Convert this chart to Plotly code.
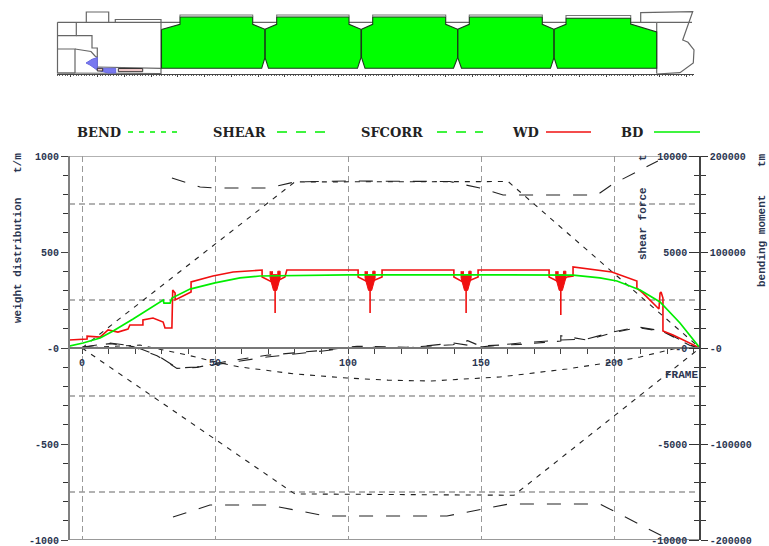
import plotly.graph_objects as go

W, H = 769, 546
# ---------- data (frame number, value) ----------
WD_FRAME = [-4.9,1.9,1.9,6.8,9.8,13.5,17.3,18,22.9,22.9,26.7,30.5,31.2,33.8,34.1,35,35,41,41,49.2,56.8,66.2,67.7,67.7,71.4,72.6,72.6,72.6,76.3,77,103.8,103.8,107.5,108.3,108.3,108.3,112.8,112.8,139.8,139.8,143.2,144.4,144.4,144.4,148.9,148.9,175.6,175.6,178.6,180,180,180,182.3,184.6,184.6,199.2,208.6,208.6,210.9,216.9,217.3,217.7,218.4,218.4,222.2,232.3]
WD_VALUE = [42,47,62,57,94,83,99,120,120,146,156,135,104,104,302,286,250,292,344,375,396,406,406,370,344,344,182,344,370,406,406,370,344,344,182,344,370,406,406,370,344,344,182,344,370,406,406,370,349,344,172,344,370,375,422,396,349,312,286,203,286,292,260,89,68,0]
BD_FRAME = [-4.9,0.4,6.8,11.7,19.2,30.5,30.8,33.1,33.8,40.6,50,59.4,66.9,74.4,100,150,175,184.6,194.7,201.1,209.8,217.3,224.8,232.3]
BD_VALUE = [10,26,52,89,151,250,234,234,260,307,339,365,375,377,381,381,381,380,365,349,302,240,130,0]
SPIKE_FRAMES = [72.6,108.3,144.4,180]
FUNNEL_DX = [-1.9,-1.9,-0.6,0.6,1.9,1.9,1,1,-1,-1]
FUNNEL_WD = [400,365,300,300,365,400,400,382,382,400]

BEND_POS_FRAME = [0,80,160.2,232.3]
BEND_POS_TM = [0,173000,173400,0]
BEND_NEG_FRAME = [0,80,162.4,232.3]
BEND_NEG_TM = [0,-152000,-153400,0]
BEND_FRAME = [0,21.8,39.5,51.9,59.4,80,99.6,115,130.8,157.1,182.3,199.6,209.8,223.7]
BEND_TM = [0,3100,-7300,-15600,-19800,-27000,-31250,-33500,-34400,-30200,-21900,-14600,-9400,0]

SHEAR_POS_FRAME = [33.8,44.4,50,69.9,80,99.6,138.3,149.6,158.3,193.6,199.6,216.5]
SHEAR_POS_T = [8850,8385,8330,8330,8650,8700,8670,8330,7970,7970,8540,9740]
SHEAR_NEG_FRAME = [34.2,48.1,70.3,91.7,137.2,160.5,194.7,218.8]
SHEAR_NEG_T = [-8800,-8180,-8180,-8750,-8750,-8125,-8125,-9840]
SHEAR_FRAME = [0.4,10.5,19.2,28.2,35.7,43.2,54.5,69.5,90.6,103.4,122,139.5,149.6,164.7,180,189.8,199.6,209,218.4,228.6,232.3]
SHEAR_T = [52,260,104,-365,-1040,-990,-780,-470,-156,52,0,260,52,260,417,469,833,1094,885,156,0]
SFCORR_FRAME = [0.4,10.5,19.2,28.2,35.7,43.2,54.5,69.5,90.6,103.4,122,139.5,145,149.6,164.7,180,180,189.8,199.6,209,218.4,228.6,232.3]
SFCORR_T = [40,230,70,-400,-1060,-1010,-690,-380,-120,90,40,170,380,110,190,360,640,420,800,1060,860,130,0]

GRID_Y = [750,250,-250,-750]
WD_RANGE = [-1000,1000]
FRAME_RANGE = [-4.89,232.33]
WD_TICKS = [-1000,-500,0,500,1000]
WD_LABELS = ["-1000","-500","-0","500","1000"]
SF_TICKS = [-10000,-5000,0,5000,10000]
SF_LABELS = ["-10000","-5000","-0","5000","10000"]
BM_TICKS = [-200000,-100000,0,100000,200000]
BM_LABELS = ["-200000","-100000","-0","100000","200000"]

LEGEND_NAMES = ["BEND","SHEAR","SFCORR","WD","BD"]
LEGEND_TEXT_X = [75,211,359,510,619]
LEGEND_LINE_X = [[128,177],[277,325],[437,483],[546,591],[654,700]]
LEGEND_COLOR = ["#00f000","#00f000","#00f000","#f01010","#00f000"]
LEGEND_DASH = ["5px,6px","10px,9px","10px,9px","solid","solid"]

# ship profile, read in picture units (x, y from the top)
HOLD_X = [161.5,180,180,252.7,252.7,265,265,261.7,161.5,161.5,None,
          265,276.7,276.7,349,349,361,361,357.5,268.5,265,265,None,
          361.5,372.7,372.7,445.7,445.7,457.7,457.7,453.5,365,361.5,361.5,None,
          457.7,469.3,469.3,542.3,542.3,554,554,550.5,461.5,457.7,457.7,None,
          554,566,566,630.7,630.7,656.7,656.7,557.5,554,554]
HOLD_Y = [29.5,24.3,17,17,24.3,29.3,57.5,68.3,68.3,29.5,None,
          29.3,24.3,17,17,24.3,29.3,57.5,68.3,68.3,57.5,29.3,None,
          29.3,24.3,17,17,24.3,29.3,57.5,68.3,68.3,57.5,29.3,None,
          29.3,24.3,17,17,24.3,29.3,57.5,68.3,68.3,57.5,29.3,None,
          29.3,24.3,18.3,18.3,24,32,68.3,68.3,57.5,29.3]
COAMING_X = [180,180,252.7,252.7,None,276.7,276.7,349,349,None,372.7,372.7,445.7,445.7,None,469.3,469.3,542.3,542.3,None,566,566,630.7,630.7]
COAMING_Y = [17,15,15,17,None,17,15,15,17,None,17,15,15,17,None,17,15,15,17,None,18,15.5,15.5,18]
OUTLINE_X = [57.5,656.7,None,57.5,57.5,75,None,76.3,76.3,57.5,None,76.3,92,92,97.3,97.3,None,57.5,75,75,None,
             75,91,95,97.3,None,57.5,116,161,161,161,None,97.3,155,161,None,86.3,86.3,108.7,108.7,None,115.3,115.3,161,161,None,
             656.7,656.7,None,640.7,640.7,692.7,682.7,688,694,693.3,680,656.7,None,656.7,692]
OUTLINE_Y = [22.3,22.3,None,22.3,73,73,None,22.3,35.7,35.7,None,35.7,35.7,48,48,68,None,49,49,73,None,
             49,51.5,56,57.5,None,73,73.5,73.5,73.5,22.3,None,67,67.5,68.3,None,22.3,12,12,22.3,None,22.3,19.5,19.5,22.3,None,
             22.3,73.5,None,22.3,12.7,11.7,40,42.3,50,63,72.7,74,None,22.3,22.3]
BLUE_X = [97.3,92,86,90,97,108,115.7,115.7,97.3,97.3]
BLUE_Y = [57.5,59.3,63,65,70,73,73,68.3,68.3,57.5]
PINK_X = [118.3,142.7,142.7,118.3,118.3,None,97.3,102.7,102.7,97.3,97.3]
PINK_Y = [68.5,68.5,71.7,71.7,68.5,None,68.3,68.3,71,71,68.3]
SHIP_TICK_RANGE = [-5.1,232.7]

INK = "#2a3550"
MONO = "Liberation Mono"

fig = go.Figure()

# ---- envelope and actual curves
def black(x, y, yaxis, dash, width=1.1):
    fig.add_trace(go.Scatter(x=x, y=y, xaxis="x", yaxis=yaxis, mode="lines", showlegend=False,
                             hoverinfo="skip", line=dict(color="#222222", width=width, dash=dash)))
black(BEND_POS_FRAME, BEND_POS_TM, "y3", "5px,6px")
black(BEND_NEG_FRAME, BEND_NEG_TM, "y3", "5px,6px")
black(BEND_FRAME, BEND_TM, "y3", "5px,6px")
black(SHEAR_POS_FRAME, SHEAR_POS_T, "y2", "14px,13px")
black(SHEAR_NEG_FRAME, SHEAR_NEG_T, "y2", "14px,13px")
black(SHEAR_FRAME, SHEAR_T, "y2", "14px,13px")
black(SFCORR_FRAME, SFCORR_T, "y2", "11px,12px")

# ---- weight and buoyancy
for f in SPIKE_FRAMES:
    fig.add_trace(go.Scatter(x=[f+d for d in FUNNEL_DX], y=FUNNEL_WD, xaxis="x", yaxis="y4", mode="lines",
                             fill="toself", fillcolor="#f01010", line=dict(color="#f01010", width=1),
                             showlegend=False, hoverinfo="skip"))
fig.add_trace(go.Scatter(x=WD_FRAME, y=WD_VALUE, xaxis="x", yaxis="y4", mode="lines", name="WD",
                         showlegend=False, line=dict(color="#f01010", width=1.6)))
fig.add_trace(go.Scatter(x=BD_FRAME, y=BD_VALUE, xaxis="x", yaxis="y4", mode="lines", name="BD",
                         showlegend=False, line=dict(color="#00ee00", width=1.7)))

# ---- ship
def ship(x, y, color, width, fill=None):
    fig.add_trace(go.Scatter(x=x, y=y, xaxis="x2", yaxis="y5", mode="lines", showlegend=False, hoverinfo="skip",
                             fill="toself" if fill else None, fillcolor=fill,
                             line=dict(color=color, width=width)))
ship(OUTLINE_X, OUTLINE_Y, "#666666", 1.2)
ship(BLUE_X, BLUE_Y, "#6a6ae0", 1, "#7878f0")
ship(PINK_X, PINK_Y, "#333333", 1, "#f0c8c8")
ship(HOLD_X, HOLD_Y, "#1c3a1c", 1.1, "#00ff00")
ship(COAMING_X, COAMING_Y, "#777777", 1.1)

# ---- legend samples
for xs, c, d in zip(LEGEND_LINE_X, LEGEND_COLOR, LEGEND_DASH):
    fig.add_trace(go.Scatter(x=xs, y=[132,132], xaxis="x2", yaxis="y5", mode="lines", showlegend=False,
                             hoverinfo="skip", line=dict(color=c, width=1.5, dash=d)))

ann = []
for n, x in zip(LEGEND_NAMES, LEGEND_TEXT_X):
    ann.append(dict(text=n, x=x, y=132, xref="x2", yref="y5", xanchor="left", yanchor="middle", showarrow=False,
                    font=dict(family="DejaVu Serif", size=13, color="#222222", weight="bold")))
def rot(text, x, y):
    ann.append(dict(text=text, x=x, y=y, xref="x2", yref="y5", textangle=-90, showarrow=False,
                    xanchor="center", yanchor="middle", font=dict(family=MONO, size=11, color=INK, weight="bold")))
rot("weight distribution", 18, 261)
rot("t/m", 18, 163)
rot("shear force", 643, 224)
rot("t", 643, 158)
rot("bending moment", 762, 241)
rot("tm", 762, 160)
ann.append(dict(text="FRAME", x=681, y=375, xref="x2", yref="y5", showarrow=False,
                font=dict(family=MONO, size=11, color=INK, weight="bold")))

# ---- grid and frame lines
shapes = [dict(type="line", xref="x", yref="y", x0=FRAME_RANGE[0], x1=FRAME_RANGE[1], y0=g, y1=g, layer="below",
               line=dict(color="#999999", width=1.4, dash="6px,4px")) for g in GRID_Y]
for yy, c in ((WD_RANGE[1], "#999999"), (WD_RANGE[0], "#777777")):
    shapes.append(dict(type="line", xref="x", yref="y", x0=FRAME_RANGE[0], x1=FRAME_RANGE[1], y0=yy, y1=yy,
                       layer="below", line=dict(color=c, width=1.4)))

tickfont = dict(family=MONO, size=10, color=INK, weight="bold")
xd = [69/W, 700/W]
yd = [(H-540)/H, (H-156)/H]
zero_pos = (H-348)/H
right = 700/W

def y_axis(rng, tv, tt, **kw):
    dt = tv[1]-tv[0]
    return dict(domain=yd, range=rng, tickmode="array", tickvals=tv, ticktext=tt, showgrid=False, zeroline=False,
                showline=True, ticks="outside", tickfont=tickfont, ticklabeloverflow="allow",
                minor=dict(dtick=dt/5, tick0=0, ticks="outside", ticklen=5, tickcolor="#333333"), **kw)

fig.update_layout(
    width=W, height=H, margin=dict(l=0, r=0, t=0, b=0, pad=0, autoexpand=False),
    paper_bgcolor="white", plot_bgcolor="rgba(0,0,0,0)",
    showlegend=False, shapes=shapes, annotations=ann,
    xaxis=dict(domain=xd, range=FRAME_RANGE, anchor="free", position=zero_pos, dtick=50, tick0=0,
               showgrid=True, griddash="6px,4px", gridcolor="#999999", gridwidth=1.2, zeroline=False,
               showline=True, linecolor="#777777", linewidth=2.2, ticks="outside", ticklen=5, tickcolor="#444444",
               tickfont=tickfont, minor=dict(dtick=10, tick0=0, ticks="outside", ticklen=5, tickcolor="#444444")),
    yaxis=y_axis(WD_RANGE, WD_TICKS, WD_LABELS, anchor="free", position=69/W, side="left", linecolor="#808080", linewidth=2.2,
                 ticklen=7, tickcolor="#444444"),
    yaxis2=y_axis([-10000,10000], SF_TICKS, SF_LABELS, anchor="free", position=right, side="left", overlaying="y",
                  linecolor="#444444", linewidth=1.5, ticklen=10, tickcolor="#333333"),
    yaxis3=y_axis([-200000,200000], BM_TICKS, BM_LABELS, anchor="free", position=right, side="right", overlaying="y",
                  linecolor="#444444", linewidth=1.5, ticklen=7, tickcolor="#333333"),
    yaxis4=dict(domain=yd, range=WD_RANGE, overlaying="y", visible=False),
    xaxis2=dict(domain=[0,1], range=[0,W], anchor="y5", visible=False),
    yaxis5=dict(domain=[0,1], range=[H,0], anchor="x2", visible=False),
    xaxis3=dict(domain=[57/W,694/W], range=SHIP_TICK_RANGE, anchor="free", position=(H-74)/H,
                dtick=10, tick0=0, showgrid=False, zeroline=False, showline=True, linecolor="#444444", linewidth=1,
                ticks="outside", ticklen=2, tickcolor="#444444", showticklabels=False,
                minor=dict(dtick=1, tick0=0, ticks="outside", ticklen=1, tickcolor="#666666")),
    yaxis6=dict(domain=[0,1], range=[H,0], anchor="x3", visible=False),
)
# keep the tick axis alive with an empty trace
fig.add_trace(go.Scatter(x=[None], y=[None], xaxis="x3", yaxis="y6", showlegend=False, hoverinfo="skip"))

fig.write_html("out.html", post_script="document.body.style.margin='0';", config=dict(displayModeBar=False))
